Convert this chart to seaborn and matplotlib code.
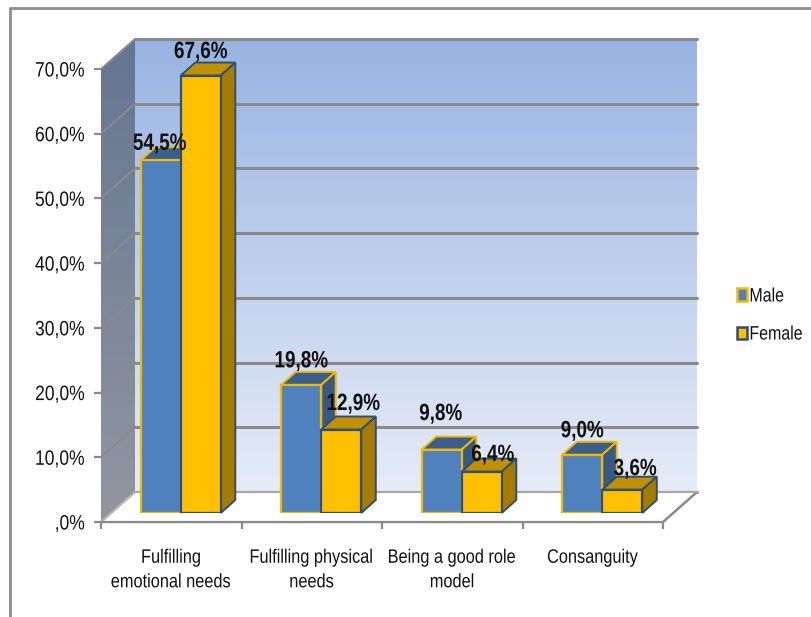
import numpy as np
import pandas as pd
import matplotlib
matplotlib.use('Agg')
import matplotlib.pyplot as plt
import seaborn as sns
from matplotlib.lines import Line2D
from matplotlib.patches import Polygon, Rectangle
from matplotlib.patheffects import AbstractPathEffect
from matplotlib.transforms import Affine2D, IdentityTransform

categories = ['Fulfilling\nemotional needs', 'Fulfilling physical\nneeds',
              'Being a good role\nmodel', 'Consanguity']
male = [54.5, 19.8, 9.8, 9.0]
female = [67.6, 12.9, 6.4, 3.6]
y_ticks = [0, 10, 20, 30, 40, 50, 60, 70]
y_labels = [',0%', '10,0%', '20,0%', '30,0%', '40,0%', '50,0%', '60,0%', '70,0%']

# label placement in pixels from the top centre of each bar
male_label_offset = [(-1, 17), (0, 24), (-1, 36), (0, 24)]
female_label_offset = [(0, 24), (12, 26), (11, 17), (13, 21)]

df = pd.DataFrame({
    'category': categories * 2,
    'share': male + female,
    'sex': ['Male'] * 4 + ['Female'] * 4,
})

W, H = 811, 617
GREY = '#8a8a8a'
sns.set_style('white')
plt.rcParams['font.family'] = ['Liberation Sans', 'DejaVu Sans']

fig = plt.figure(figsize=(W / 100, H / 100), dpi=100)
PX = IdentityTransform()


class Squeeze(AbstractPathEffect):
    # the reference text is a narrow Arial, no narrow family here so squeeze the glyphs
    def __init__(self, anchor='center', sx=0.84):
        super().__init__()
        self.anchor = anchor
        self.sx = sx

    def draw_path(self, renderer, gc, tpath, affine, rgbFace=None):
        ext = tpath.get_extents()
        cx = {'center': (ext.x0 + ext.x1) / 2, 'right': ext.x1, 'left': ext.x0}[self.anchor]
        squeeze = Affine2D().translate(-cx, 0).scale(self.sx, 1).translate(cx, 0)
        renderer.draw_path(gc, tpath, squeeze + affine, rgbFace)


def axes_at(left, top, right, bottom, **kw):
    return fig.add_axes([left / W, 1 - bottom / H, (right - left) / W, (bottom - top) / H], **kw)


def poly(ax, pts, **kw):
    p = Polygon(pts, closed=True, transform=PX, clip_on=False, **kw)
    ax.add_patch(p)
    return p


# front plane holds the axis, the back wall is the same plane pushed back
L, R, T, B = 101, 663, 69, 522
WALL_DX, WALL_DY = 34, 30
BAR_DX, BAR_DY = 9.5, 9
DEPTH_X, DEPTH_Y = 14.5, 13

# back wall with the gradient and the gridlines
ax_back = axes_at(L + WALL_DX, T - WALL_DY, R + WALL_DX, B - WALL_DY)
ramp = np.linspace(0, 1, 256)[:, None]
wall_top, wall_bottom = np.array([152, 180, 226]) / 255, np.array([230, 236, 247]) / 255
ax_back.imshow((wall_top + (wall_bottom - wall_top) * ramp)[:, None, :],
               extent=(-0.5, 3.5, 0, 70), aspect='auto', zorder=0)
ax_back.set_xlim(-0.5, 3.5)
ax_back.set_ylim(0, 70)
ax_back.set_yticks(y_ticks)
ax_back.set_xticks([])
ax_back.tick_params(left=False, labelleft=False)
ax_back.grid(axis='y', color=GREY, lw=2.2, clip_on=False)
ax_back.set_axisbelow(False)
sns.despine(ax=ax_back, left=True, bottom=True, top=True, right=True)

# front axes: ticks and labels only
ax = axes_at(L, T, R, B)
ax.patch.set_alpha(0)
ax.set_xlim(-0.5, 3.5)
ax.set_ylim(0, 70)
ax.set_yticks(y_ticks, y_labels, fontsize=15, color='#111111')
ax.set_xticks(np.arange(4), categories, fontsize=14, color='#111111', linespacing=1.58)
ax.set_xticks(np.arange(5) - 0.5, minor=True)
ax.tick_params(axis='y', length=5, width=1.6, color=GREY, pad=6.5, left=True)
ax.tick_params(axis='x', which='major', length=0, pad=20)
ax.tick_params(axis='x', which='minor', length=5, width=1.6, color=GREY, bottom=True)
for t in ax.get_yticklabels():
    t.set_path_effects([Squeeze('right')])
for t in ax.get_xticklabels():
    t.set_path_effects([Squeeze('center')])
sns.despine(ax=ax, top=True, right=True, left=True, bottom=False)
ax.spines['bottom'].set_color(GREY)
ax.spines['bottom'].set_linewidth(1.6)

# side wall, gradient clipped to the parallelogram
ax_side = axes_at(L, T - WALL_DY, L + WALL_DX, B)
ax_side.axis('off')
side_top, side_bottom = np.array([100, 118, 145]) / 255, np.array([146, 150, 160]) / 255
im = ax_side.imshow((side_top + (side_bottom - side_top) * ramp)[:, None, :], aspect='auto')
to_px = ax.transData.transform
ll, ul = to_px((-0.5, 0)), to_px((-0.5, 70))
lr = to_px((3.5, 0))
wall = np.array([WALL_DX, WALL_DY])
im.set_clip_path(Polygon([ll, ul, ul + wall, ll + wall], closed=True, transform=PX))

# floor and the diagonals
ax_over = axes_at(0, 0, W, H)
ax_over.axis('off')
ax_over.set_zorder(1.5)
poly(ax_over, [ll, lr, lr + wall, ll + wall], facecolor='white', edgecolor='none')
for tick in y_ticks[1:]:
    start = to_px((-0.5, tick))
    ax_over.add_line(Line2D(*np.c_[start, start + wall], transform=PX, color=GREY, lw=1.4, clip_on=False))
ax_over.add_line(Line2D(*np.c_[ll, ll + wall], transform=PX, color='#b5b5b5', lw=1.6))
ax_over.add_line(Line2D(*np.c_[lr, lr + wall], transform=PX, color=GREY, lw=1.8))
ax_over.add_line(Line2D(*np.c_[ll + wall, lr + wall], transform=PX, color='#a8a8a8', lw=1.6))
ax_over.add_line(Line2D(*np.c_[ll, lr], transform=PX, color=GREY, lw=1.6))

# outer frame of the picture
ax_over.add_line(Line2D([10, 10, W], [0, H - 8, H - 8], transform=PX, color='#8c8c8c', lw=2, clip_on=False))

# bars
ax_bars = axes_at(L + BAR_DX, T - BAR_DY, R + BAR_DX, B - BAR_DY)
ax_bars.set_zorder(2)
ax_bars.patch.set_alpha(0)
sns.barplot(data=df, x='category', y='share', hue='sex', order=categories,
            palette={'Male': '#4f81bd', 'Female': '#ffc000'}, saturation=1,
            width=0.57, gap=0, dodge=True, legend=False, ax=ax_bars)
ax_bars.set_xlim(-0.5, 3.5)
ax_bars.set_ylim(0, 70)
ax_bars.axis('off')

styles = [
    {'edge': '#f5b800', 'top': '#3a5f8c', 'side': '#365a84', 'z': 3},
    {'edge': '#2f4f78', 'top': '#c09000', 'side': '#a67c00', 'z': 4},
]
depth = np.array([DEPTH_X, DEPTH_Y])
fig.canvas.draw()
for container, st in zip(ax_bars.containers, styles):
    for bar in container:
        x0, x1 = bar.get_x(), bar.get_x() + bar.get_width()
        h = bar.get_height()
        a = ax_bars.transData.transform((x0, h))
        b = ax_bars.transData.transform((x1, h))
        c = ax_bars.transData.transform((x1, 0))
        poly(ax_bars, [a, b, b + depth, a + depth], facecolor=st['top'], edgecolor=st['edge'],
             lw=1.4, zorder=st['z'])
        poly(ax_bars, [b, c, c + depth, b + depth], facecolor=st['side'], edgecolor=st['edge'],
             lw=1.4, zorder=st['z'])
        bar.set_edgecolor(st['edge'])
        bar.set_linewidth(1.6)
        bar.set_zorder(st['z'] + 0.5)

# data labels
for container, values, offsets in zip(ax_bars.containers, (male, female),
                                      (male_label_offset, female_label_offset)):
    for bar, val, (dx, dy) in zip(container, values, offsets):
        ax_bars.annotate(f'{val:.1f}%'.replace('.', ','),
                         (bar.get_x() + bar.get_width() / 2, val),
                         xytext=(dx, dy), textcoords='offset pixels',
                         ha='center', va='center', fontsize=17, fontweight='bold',
                         color='#111111', zorder=10, annotation_clip=False,
                         path_effects=[Squeeze('center', sx=0.8)])

# legend
handles = [Rectangle((0, 0), 1, 1, facecolor=b.get_facecolor(), edgecolor=st['edge'], lw=1.8)
           for b, st in zip((ax_bars.containers[0][0], ax_bars.containers[1][0]), styles)]
leg = fig.legend(handles, ['Male', 'Female'], loc='center left',
                 bbox_to_anchor=(719 / W, 1 - 316 / H), frameon=False, fontsize=14,
                 handlelength=0.55, handleheight=0.6, handletextpad=0.1, labelspacing=1.08,
                 labelcolor='#111111')
for t in leg.get_texts():
    t.set_path_effects([Squeeze('left', sx=0.82)])

fig.savefig('out.png', dpi=100)
